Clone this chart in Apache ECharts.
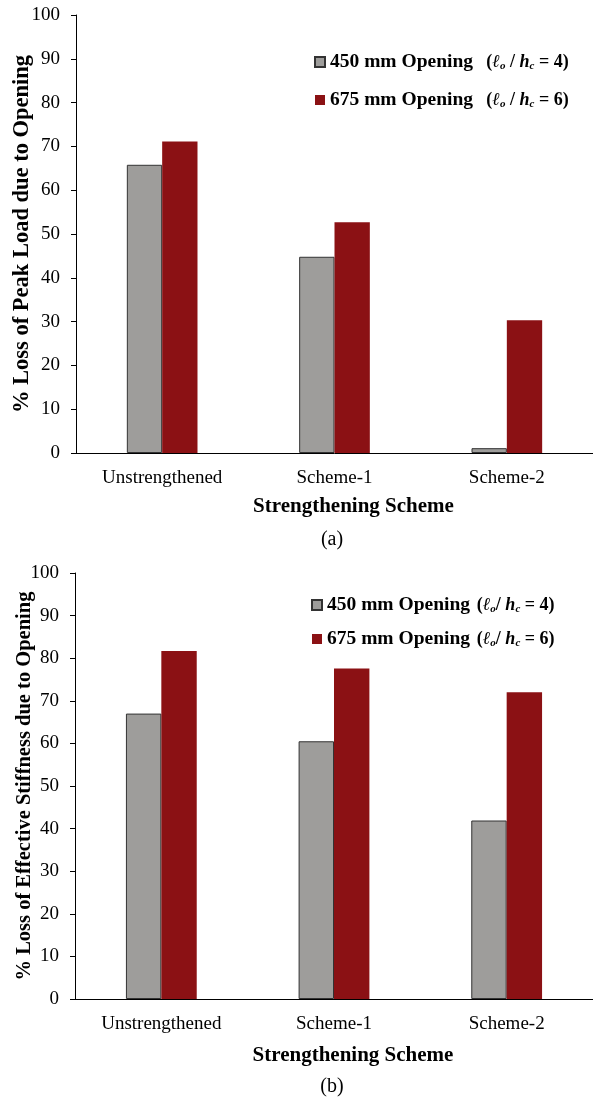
<!DOCTYPE html>
<html>
<head>
<meta charset="utf-8">
<script src="https://cdn.jsdelivr.net/npm/echarts@6/dist/echarts.min.js"></script>
<style>html,body{margin:0;padding:0;background:#fff;}#c{width:593px;height:1102px;}</style>
</head>
<body>
<div id="c"></div>
<script>
const categories = ['Unstrengthened', 'Scheme-1', 'Scheme-2'];
const seriesNames = ['450 mm Opening', '675 mm Opening'];
const ratioLabels = ['4', '6'];
const peakLoadLoss450 = [65.8, 44.8, 1.1];
const peakLoadLoss675 = [71.1, 52.7, 30.3];
const stiffnessLoss450 = [67.0, 60.5, 41.9];
const stiffnessLoss675 = [81.7, 77.6, 72.0];
const yTicksMin = 0, yTicksMax = 100, yTickStep = 10;
const xTitle = 'Strengthening Scheme';
const yTitleA = '% Loss of Peak Load due to Opening';
const yTitleB = '% Loss of Effective Stiffness due to Opening';
const panelLabels = ['(a)', '(b)'];

const FONT = '"Liberation Serif", "Times New Roman", serif';
const GRAY = '#9e9d9b';
const RED = '#8b1114';

const chart = echarts.init(document.getElementById('c'), null, {renderer: 'canvas'});

function legendFmt(sep, slash) {
  return function (name) {
    const i = seriesNames.indexOf(name);
    return '{b|' + name + '}' + sep + '{p|(}{f|\u2113}{s|o}{p|' + slash + '}{f|h}{s|c}{p| = ' + ratioLabels[i] + ')}';
  };
}
const legendRich = {
  b: {fontFamily: FONT, fontWeight: 'bold', fontSize: 19.5, color: '#000'},
  p: {fontFamily: FONT, fontWeight: 'bold', fontSize: 18, color: '#000'},
  f: {fontFamily: FONT, fontWeight: 'bold', fontStyle: 'italic', fontSize: 18, color: '#000'},
  s: {fontFamily: FONT, fontWeight: 'bold', fontStyle: 'italic', fontSize: 11, color: '#000', verticalAlign: 'bottom', lineHeight: 12}
};

function xAxis(gi, gap) {
  return {
    type: 'category', gridIndex: gi, data: categories,
    axisLine: {lineStyle: {color: '#000', width: 1}},
    axisTick: {show: false},
    axisLabel: {fontFamily: FONT, fontSize: 19, color: '#000', margin: 16},
    name: xTitle, nameLocation: 'middle', nameGap: gap,
    nameTextStyle: {fontFamily: FONT, fontWeight: 'bold', fontSize: 21, color: '#000', padding: [0, 0, 0, 38]},
    nameMoveOverlap: false
  };
}
function yAxis(gi, title, fs, gap, margin) {
  return {
    type: 'value', gridIndex: gi, min: yTicksMin, max: yTicksMax, interval: yTickStep,
    axisLine: {show: true, lineStyle: {color: '#000', width: 1}},
    axisTick: {show: true, length: 5, lineStyle: {color: '#000'}},
    splitLine: {show: false},
    axisLabel: {fontFamily: FONT, fontSize: 19, color: '#000', margin: margin},
    name: title, nameLocation: 'middle', nameGap: gap,
    nameTextStyle: {fontFamily: FONT, fontWeight: 'bold', fontSize: fs, color: '#000'},
    nameMoveOverlap: false
  };
}
function bar(gi, name, data, color, border) {
  return {
    type: 'bar', name: name, xAxisIndex: gi, yAxisIndex: gi, data: data,
    barGap: '0%', barCategoryGap: '59%',
    itemStyle: {color: color, borderColor: border ? '#333' : color, borderWidth: border ? 1 : 0},
    emphasis: {disabled: true},
    animation: false
  };
}

chart.setOption({
  animation: false,
  backgroundColor: '#fff',
  graphic: [
    {type: 'text', x: 332, y: 540, style: {text: panelLabels[0], font: '20px ' + FONT, fill: '#000', textAlign: 'center', textVerticalAlign: 'middle'}},
    {type: 'text', x: 332, y: 1087, style: {text: panelLabels[1], font: '20px ' + FONT, fill: '#000', textAlign: 'center', textVerticalAlign: 'middle'}}
  ],
  legend: [
    {data: seriesNames, orient: 'vertical', left: 309, top: 47, itemGap: 18, itemWidth: 10, itemHeight: 10, icon: 'rect',
     formatter: legendFmt('    ', ' / '), textStyle: {rich: legendRich}},
    {data: seriesNames, orient: 'vertical', left: 306, top: 590, itemGap: 14, itemWidth: 10, itemHeight: 10, icon: 'rect',
     formatter: legendFmt('  ', '/ '), textStyle: {rich: legendRich}}
  ],
  grid: [
    {left: 76, top: 15, width: 519, height: 438, containLabel: false},
    {left: 75, top: 573, width: 523, height: 426, containLabel: false}
  ],
  xAxis: [xAxis(0, 43), xAxis(1, 46)],
  yAxis: [yAxis(0, yTitleA, 22.5, 42, 16), yAxis(1, yTitleB, 20.5, 40, 16)],
  series: [
    bar(0, seriesNames[0], peakLoadLoss450, GRAY, true),
    bar(0, seriesNames[1], peakLoadLoss675, RED, false),
    bar(1, seriesNames[0], stiffnessLoss450, GRAY, true),
    bar(1, seriesNames[1], stiffnessLoss675, RED, false)
  ]
});
</script>
</body>
</html>
